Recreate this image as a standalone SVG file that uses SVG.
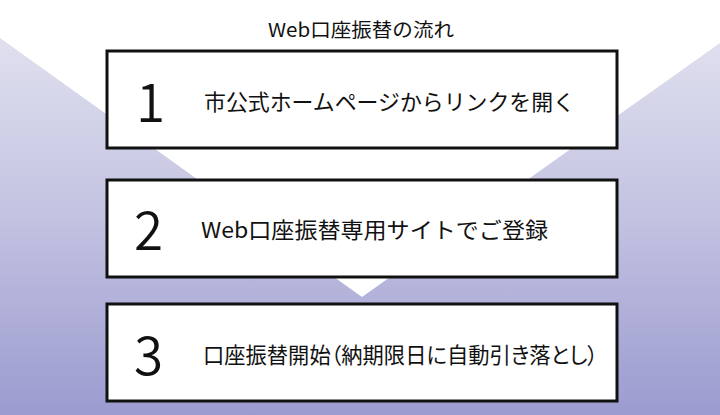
<svg xmlns="http://www.w3.org/2000/svg" width="720" height="415" viewBox="0 0 720 415">
  <defs>
    <linearGradient id="bg" x1="0" y1="0" x2="0" y2="1">
      <stop offset="0" stop-color="#e6e6f2"/>
      <stop offset="0.5" stop-color="#c4c4e2"/>
      <stop offset="1" stop-color="#9b9bd0"/>
    </linearGradient>
    <style>
      .box { fill: #ffffff; stroke: #111111; stroke-width: 3; }
      .num { font-family: "Noto Sans CJK JP", "Noto Sans", sans-serif; font-weight: 350; font-size: 53px; fill: #111111; }
      .lbl { font-family: "Noto Sans CJK JP", "Noto Sans", sans-serif; font-size: 22px; fill: #111111; }
      .palt { font-feature-settings: "palt"; }
      .title { font-family: "Noto Sans CJK JP", "Noto Sans", sans-serif; font-size: 19px; fill: #111111; }
    </style>
  </defs>
  <rect x="0" y="0" width="720" height="415" fill="url(#bg)"/>
  <g id="connectors">
    <polygon id="flow-arrow" points="0,0 720,0 720,43 362,297 0,38" fill="#ffffff"/>
  </g>
  <text class="title" x="268" y="37" textLength="186" lengthAdjust="spacingAndGlyphs">Web口座振替の流れ</text>
  <g id="step1">
    <rect class="box" x="107" y="51" width="510" height="97"/>
    <text class="num" x="136" y="122">1</text>
    <text class="lbl" x="204" y="110" textLength="371" lengthAdjust="spacingAndGlyphs">市公式ホームページからリンクを開く</text>
  </g>
  <g id="step2">
    <rect class="box" x="107" y="180" width="510" height="97"/>
    <text class="num" x="134" y="250">2</text>
    <text class="lbl" x="201" y="238" textLength="347" lengthAdjust="spacingAndGlyphs">Web口座振替専用サイトでご登録</text>
  </g>
  <g id="step3">
    <rect class="box" x="107" y="304" width="510" height="97"/>
    <text class="num" x="134" y="375">3</text>
    <text class="lbl palt" x="203" y="363" textLength="395" lengthAdjust="spacingAndGlyphs">口座振替開始（納期限日に自動引き落とし）</text>
  </g>
</svg>
